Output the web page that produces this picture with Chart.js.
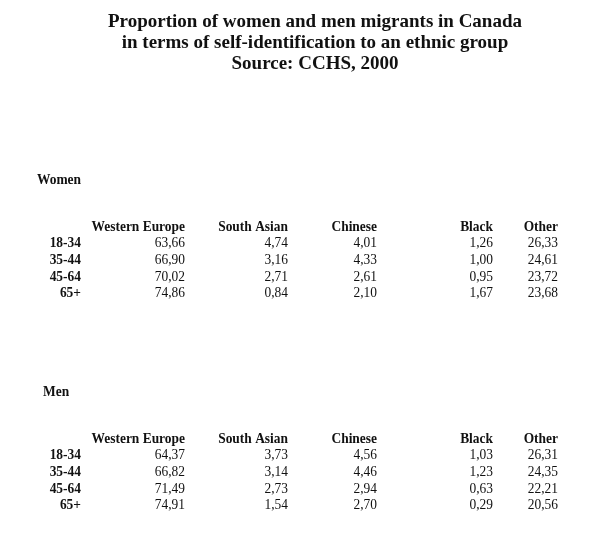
<!DOCTYPE html>
<html lang="en">
  <head>
    <meta charset="UTF-8" />
    <title>Proportion of women and men migrants in Canada</title>
    <script src="https://cdn.jsdelivr.net/npm/chart.js"></script>
    <style>
      body {
        margin: 0;
        background-color: #fff;
      }
      #chartContainer {
        width: 600px;
        height: 540px;
      }
    </style>
  </head>
  <body>
    <div id="chartContainer">
      <canvas id="myChart"></canvas>
    </div>

    <script>
      const titleLines = [
        "Proportion of women and men migrants in Canada",
        "in terms of self-identification to an ethnic group",
        "Source: CCHS, 2000",
      ];
      const ageGroups = ["18-34", "35-44", "45-64", "65+"];
      const groups = ["Western Europe", "South Asian", "Chinese", "Black", "Other"];

      const womenWestEurope = [63.66, 66.9, 70.02, 74.86];
      const womenSouthAsian = [4.74, 3.16, 2.71, 0.84];
      const womenChinese = [4.01, 4.33, 2.61, 2.1];
      const womenBlack = [1.26, 1.0, 0.95, 1.67];
      const womenOther = [26.33, 24.61, 23.72, 23.68];

      const menWestEurope = [64.37, 66.82, 71.49, 74.91];
      const menSouthAsian = [3.73, 3.14, 2.73, 1.54];
      const menChinese = [4.56, 4.46, 2.94, 2.7];
      const menBlack = [1.03, 1.23, 0.63, 0.29];
      const menOther = [26.31, 24.35, 22.21, 20.56];

      // layout (page units, mapped through the scales)
      const titleCenter = 315;
      const labelRight = 81;
      const colRight = [185, 288, 377, 493, 558];
      const sections = [
        { name: "Women", x: 37, y: 180, cols: [womenWestEurope, womenSouthAsian, womenChinese, womenBlack, womenOther] },
        { name: "Men", x: 43, y: 392, cols: [menWestEurope, menSouthAsian, menChinese, menBlack, menOther] },
      ];
      const headerGap = 47;
      const rowGap = 16.7;

      const serif = '"Liberation Serif", "Times New Roman", serif';

      const datasets = [];
      sections.forEach((sec) => {
        sec.cols.forEach((vals, g) => {
          datasets.push({
            label: sec.name + " " + groups[g],
            data: vals.map((v, i) => ({
              x: colRight[g],
              y: sec.y + headerGap + rowGap * (i + 1),
              v: v,
            })),
            pointRadius: 0,
          });
        });
      });

      function drawText(ctx, s, x, y, align, sx) {
        ctx.save();
        ctx.translate(x, y);
        ctx.scale(sx, 1);
        ctx.textAlign = align;
        ctx.fillText(s, 0, 0);
        ctx.restore();
      }

      const tablePlugin = {
        id: "tableText",
        afterDatasetsDraw(chart) {
          const ctx = chart.ctx;
          const xs = chart.scales.x;
          const ys = chart.scales.y;
          ctx.save();
          ctx.fillStyle = "#111";

          // title
          ctx.font = "bold 19px " + serif;
          ctx.textBaseline = "alphabetic";
          titleLines.forEach((t, i) => {
            drawText(ctx, t, xs.getPixelForValue(titleCenter), ys.getPixelForValue(27 + i * 21), "center", 1);
          });

          ctx.textBaseline = "middle";
          sections.forEach((sec) => {
            ctx.font = "bold 14px " + serif;
            drawText(ctx, sec.name, xs.getPixelForValue(sec.x), ys.getPixelForValue(sec.y), "left", 0.96);
            groups.forEach((g, j) => {
              drawText(ctx, g, xs.getPixelForValue(colRight[j]), ys.getPixelForValue(sec.y + headerGap), "right", 0.96);
            });
            ageGroups.forEach((a, i) => {
              drawText(ctx, a, xs.getPixelForValue(labelRight), ys.getPixelForValue(sec.y + headerGap + rowGap * (i + 1)), "right", 0.96);
            });
          });

          // values, placed at the library's point positions
          ctx.font = "14px " + serif;
          chart.data.datasets.forEach((ds, d) => {
            const meta = chart.getDatasetMeta(d);
            meta.data.forEach((el, i) => {
              const s = ds.data[i].v.toFixed(2).replace(".", ",");
              drawText(ctx, s, el.x, el.y, "right", 0.96);
            });
          });
          ctx.restore();
        },
      };

      const ctx = document.getElementById("myChart").getContext("2d");
      new Chart(ctx, {
        type: "scatter",
        data: { datasets: datasets },
        options: {
          responsive: true,
          maintainAspectRatio: false,
          animation: false,
          layout: { padding: 0 },
          scales: {
            x: { type: "linear", min: 0, max: 600, display: false },
            y: { type: "linear", min: 0, max: 540, reverse: true, display: false },
          },
          plugins: {
            legend: { display: false },
            tooltip: { enabled: false },
          },
        },
        plugins: [tablePlugin],
      });
    </script>
  </body>
</html>
